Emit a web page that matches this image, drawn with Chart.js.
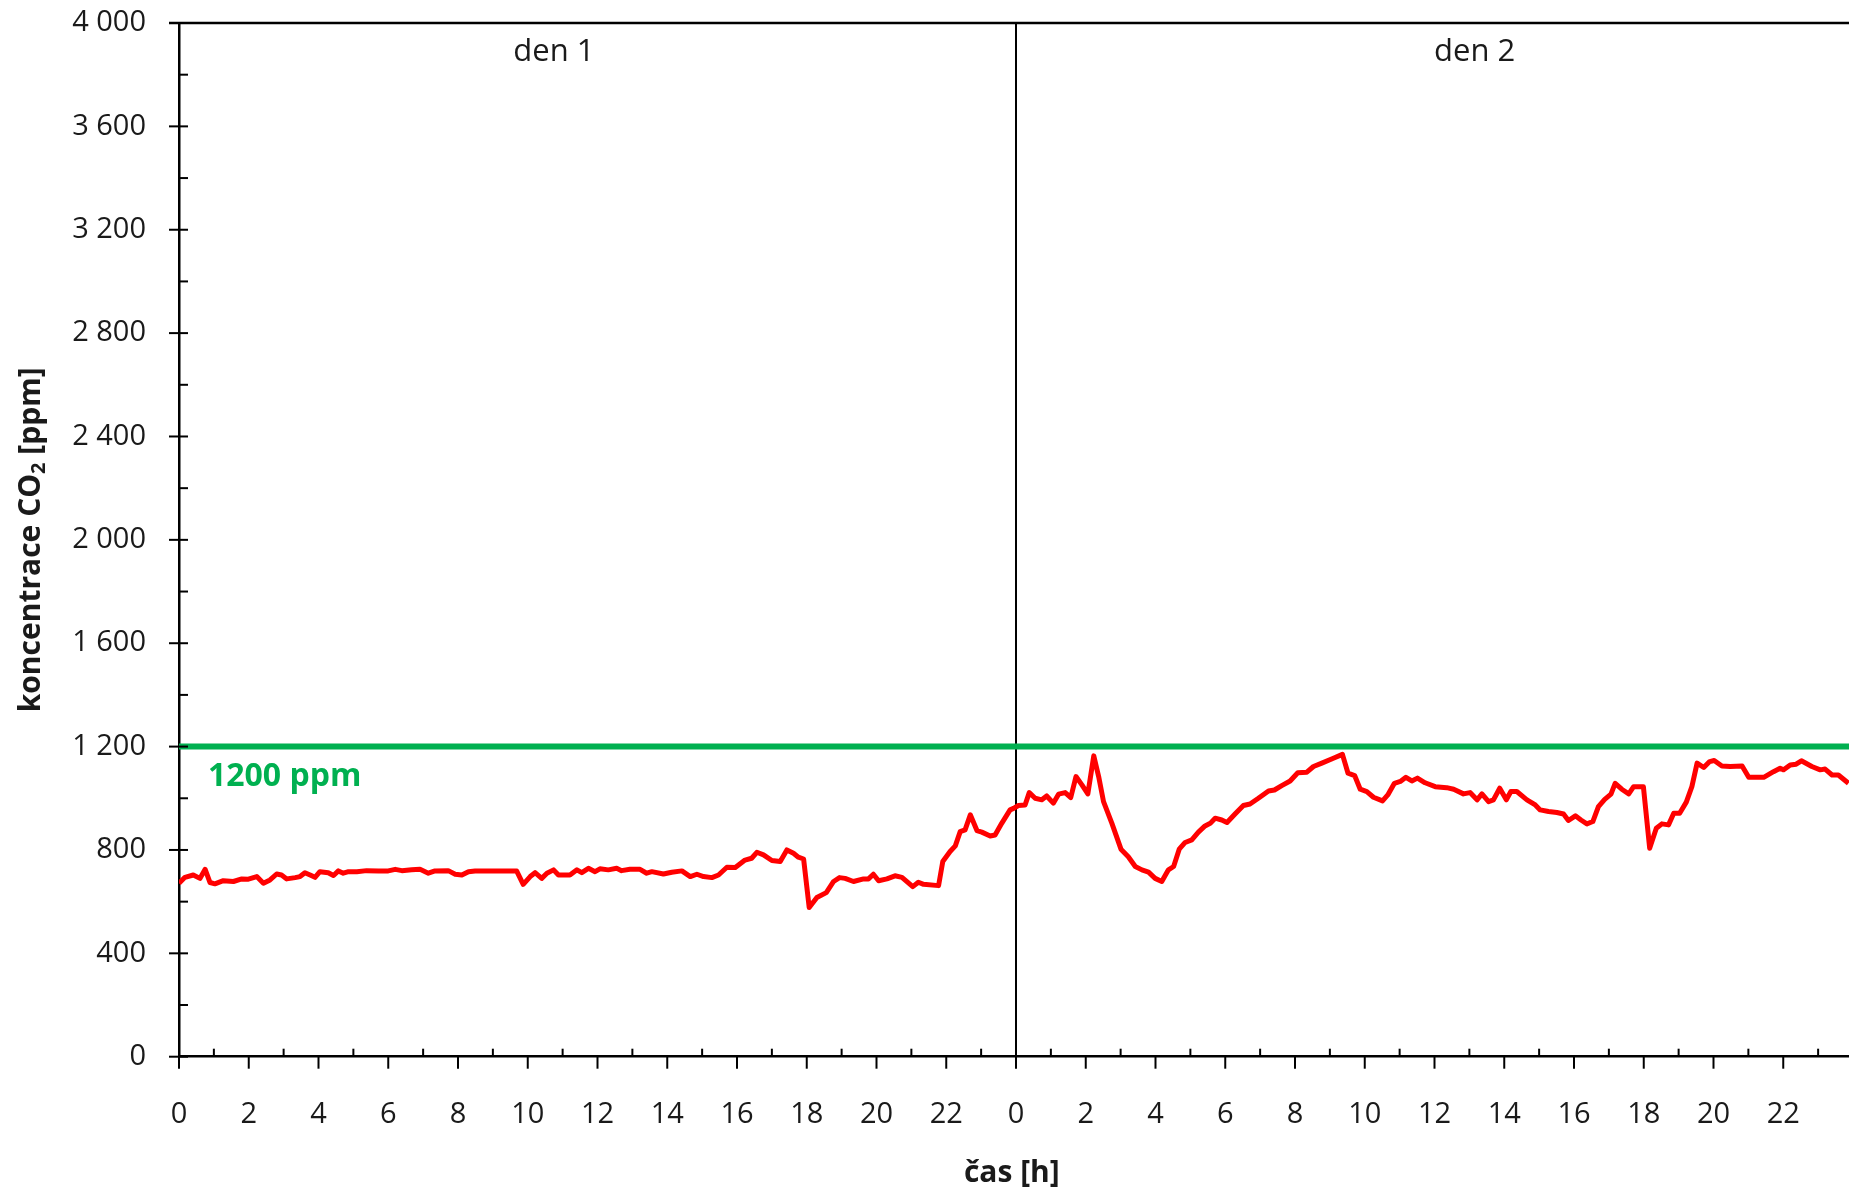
<!DOCTYPE html>
<html>
<head>
<meta charset="utf-8">
<title>koncentrace CO2</title>
<script src="https://cdn.jsdelivr.net/npm/chart.js@4.4.1/dist/chart.umd.min.js"></script>
<style>
  html, body { margin: 0; padding: 0; background: #fff; overflow: hidden; }
  #wrap { width: 1849px; height: 1195px; overflow: hidden; }
  canvas { display: block; }
</style>
</head>
<body>
<div id="wrap"><canvas id="co2Chart" width="1856" height="1195"></canvas></div>
<script>
// elapsed hours since start of den 1 (0-48)
const timeDay1 = [
  0, 0.17, 0.41, 0.6, 0.75, 0.89, 1.03, 1.27, 1.56, 1.8, 1.99, 2.23, 2.42, 2.61, 2.8, 2.94, 3.09, 3.33, 3.47, 3.61,
  3.76, 3.9, 4.04, 4.28, 4.43, 4.57, 4.71, 4.86, 5.1, 5.38, 5.72, 6.0, 6.2, 6.39, 6.67, 6.91, 7.15, 7.34, 7.72, 7.92,
  8.11, 8.3, 8.49, 9.06, 9.68, 9.87, 10.07, 10.21, 10.4, 10.55, 10.74, 10.88, 11.21, 11.41, 11.55, 11.74, 11.93,
  12.07, 12.31, 12.55, 12.69, 12.93, 13.22, 13.41, 13.56, 13.89, 14.13, 14.42, 14.66, 14.85, 15.04, 15.28, 15.47,
  15.71, 15.95, 16.23, 16.42, 16.57, 16.76, 17.0, 17.24, 17.43, 17.62, 17.76, 17.91, 18.07, 18.29, 18.56, 18.77,
  18.94, 19.1, 19.34, 19.63, 19.77, 19.91, 20.06, 20.3, 20.53, 20.73, 21.04, 21.2, 21.35, 21.78, 21.9, 22.11, 22.26,
  22.4, 22.54, 22.69, 22.88, 23.02, 23.26, 23.4, 23.59, 23.83, 23.93,
];
const co2Day1 = [
  671, 694, 703, 690, 725, 674, 669, 681, 678, 688, 687, 697, 671, 684, 707, 703, 688, 693, 697, 712,
  703, 694, 716, 712, 701, 719, 710, 716, 716, 720, 719, 719, 725, 720, 723, 725, 710, 719, 720, 706,
  703, 716, 719, 719, 719, 667, 697, 712, 690, 710, 723, 703, 703, 723, 712, 729, 716,
  727, 723, 729, 720, 725, 725, 710, 716, 707, 714, 719, 697, 706, 697, 693, 703,
  733, 732, 761, 768, 791, 781, 759, 755, 800, 787, 772, 765, 577, 616, 635, 678,
  693, 690, 678, 688, 688, 706, 681, 688, 700, 694, 658, 675, 667, 662, 755, 794, 816,
  871, 878, 936, 875, 869, 854, 858, 903, 955, 961,
];
const timeDay2 = [
  24.07, 24.26, 24.38, 24.55, 24.74, 24.88, 25.07, 25.22, 25.41, 25.57, 25.72, 25.89, 26.06, 26.23, 26.37, 26.51,
  26.75, 27.01, 27.22, 27.42, 27.61, 27.8, 27.99, 28.18, 28.37, 28.52, 28.68, 28.85, 29.04, 29.23, 29.42, 29.57,
  29.71, 29.9, 30.05, 30.28, 30.52, 30.71, 30.95, 31.24, 31.41, 31.62, 31.86, 32.08, 32.34, 32.53, 32.77, 33.1,
  33.36, 33.52, 33.71, 33.87, 34.06, 34.25, 34.51, 34.66, 34.85, 35.02, 35.18, 35.35, 35.51,
  35.73, 36.02, 36.35, 36.55, 36.83, 37.02, 37.22, 37.36, 37.55, 37.69, 37.87, 38.06, 38.19, 38.36, 38.65, 38.89,
  39.03, 39.27, 39.51, 39.7, 39.84, 40.04, 40.2, 40.37, 40.54, 40.7, 40.88, 41.06, 41.18, 41.37, 41.57, 41.71,
  41.99, 42.17, 42.36, 42.52, 42.71, 42.86, 43.03, 43.22, 43.38, 43.53, 43.72, 43.89, 44.02, 44.24, 44.48, 44.82,
  45.01, 45.44, 45.72, 45.91, 46.01, 46.2, 46.37, 46.52, 46.82, 47.06, 47.2, 47.4, 47.58, 47.87,
];
const co2Day2 = [
  972, 974, 1022, 1000, 994, 1009, 981, 1016, 1022, 1003, 1084, 1052, 1017, 1164, 1084, 987,
  903, 803, 774, 736, 723, 714, 690, 678, 723, 736, 803, 829, 839, 869, 893, 903,
  923, 916, 906, 939, 972, 978, 1000, 1028, 1032, 1049, 1067, 1099, 1101, 1123, 1136, 1155,
  1170, 1097, 1088, 1035, 1026, 1004, 990, 1013, 1058, 1065, 1081, 1067, 1078,
  1060, 1045, 1041, 1035, 1017, 1022, 994, 1017, 987, 994, 1039, 994, 1026, 1026, 994, 974,
  955, 949, 945, 939, 914, 932, 916, 901, 910, 968, 996, 1016, 1058, 1035, 1017, 1045,
  1045, 807, 884, 901, 897, 942, 942, 985, 1045, 1136, 1119, 1142, 1146, 1125, 1123, 1125,
  1081, 1081, 1103, 1116, 1110, 1129, 1132, 1145, 1123, 1110, 1113, 1090, 1090, 1058,
];

const limitTime = [0, 48];
const limitValue = [1200, 1200];
const limitLabel = "1200 ppm";

const dayLabels = ["den 1", "den 2"];
const dayLabelTime = [10.75, 37.15];

const xTitle = "čas [h]";
const yTitleParts = ["koncentrace CO", "2", " [ppm]"];

const FONT = "'Open Sans', 'Noto Sans', sans-serif";
const TEXT = "#1a1a1a";

const allTimes = timeDay1.concat(timeDay2);
const allCo2 = co2Day1.concat(co2Day2);
const co2Points = allTimes.map((t, i) => ({ x: t, y: allCo2[i] }));
const limitPoints = limitTime.map((t, i) => ({ x: t, y: limitValue[i] }));

function spacedThousands(v) {
  if (v < 1000) return String(v);
  return Math.floor(v / 1000) + " " + String(v % 1000).padStart(3, "0");
}

const decor = {
  id: "decor",
  beforeDatasetsDraw(chart) {
    const { ctx, chartArea, scales: { x } } = chart;
    const xd = x.getPixelForValue(24);
    ctx.save();
    ctx.strokeStyle = "#000";
    ctx.lineWidth = 2;
    ctx.beginPath();
    ctx.moveTo(xd, chartArea.top);
    ctx.lineTo(xd, chartArea.bottom);
    ctx.stroke();
    ctx.restore();
  },
  afterDraw(chart) {
    const { ctx, chartArea, scales: { x, y } } = chart;
    ctx.save();
    ctx.strokeStyle = "#000";

    // top frame line
    ctx.lineWidth = 2.5;
    ctx.beginPath();
    ctx.moveTo(chartArea.left - 10, chartArea.top);
    ctx.lineTo(chart.width, chartArea.top);
    ctx.stroke();

    // y tick marks: major crossing, minor inside
    ctx.lineWidth = 2;
    for (let v = 0; v <= 4000; v += 200) {
      const py = y.getPixelForValue(v);
      const major = v % 400 === 0;
      ctx.beginPath();
      ctx.moveTo(chartArea.left - (major ? 10 : 0), py);
      ctx.lineTo(chartArea.left + 9, py);
      ctx.stroke();
    }
    // x tick marks: even hours below, odd hours inside
    for (let h = 0; h <= 48; h += 1) {
      const px = x.getPixelForValue(h);
      ctx.beginPath();
      if (h % 2 === 0) {
        ctx.moveTo(px, chartArea.bottom);
        ctx.lineTo(px, chartArea.bottom + 12);
      } else {
        ctx.moveTo(px, chartArea.bottom - 8);
        ctx.lineTo(px, chartArea.bottom);
      }
      ctx.stroke();
    }

    // day labels
    ctx.fillStyle = TEXT;
    ctx.font = `31px ${FONT}`;
    ctx.textAlign = "center";
    ctx.textBaseline = "middle";
    dayLabels.forEach((lbl, i) => {
      ctx.fillText(lbl, x.getPixelForValue(dayLabelTime[i]), y.getPixelForValue(3889));
    });

    // limit label
    ctx.fillStyle = "#00B050";
    ctx.font = `bold 32px ${FONT}`;
    ctx.textAlign = "left";
    ctx.fillText(limitLabel, x.getPixelForValue(0.83), y.getPixelForValue(1083));

    // x title
    ctx.fillStyle = TEXT;
    ctx.font = `bold 30px ${FONT}`;
    ctx.textAlign = "center";
    ctx.fillText(xTitle, x.getPixelForValue(23.88), 1173);

    // y title with subscript
    const big = `bold 30px ${FONT}`;
    const small = `bold 20px ${FONT}`;
    ctx.font = big;
    const w0 = ctx.measureText(yTitleParts[0]).width;
    const w2 = ctx.measureText(yTitleParts[2]).width;
    ctx.font = small;
    const w1 = ctx.measureText(yTitleParts[1]).width;
    const total = w0 + w1 + w2;
    ctx.translate(31, (chartArea.top + chartArea.bottom) / 2);
    ctx.rotate(-Math.PI / 2);
    ctx.textAlign = "left";
    let cx = -total / 2;
    ctx.font = big;
    ctx.fillText(yTitleParts[0], cx, 0);
    cx += w0;
    ctx.font = small;
    ctx.fillText(yTitleParts[1], cx, 8);
    cx += w1;
    ctx.font = big;
    ctx.fillText(yTitleParts[2], cx, 0);
    ctx.restore();
  },
};

new Chart(document.getElementById("co2Chart"), {
  type: "line",
  data: {
    datasets: [
      {
        label: "limit",
        data: limitPoints,
        borderColor: "#00B050",
        borderWidth: 6,
        pointRadius: 0,
        tension: 0,
      },
      {
        label: "CO2",
        data: co2Points,
        borderColor: "#FF0000",
        borderWidth: 5,
        borderJoinStyle: "round",
        pointRadius: 0,
        tension: 0,
      },
    ],
  },
  options: {
    responsive: false,
    animation: false,
    layout: { padding: { top: 23, right: 3, left: 0, bottom: 0 }, autoPadding: false },
    plugins: { legend: { display: false }, tooltip: { enabled: false } },
    scales: {
      x: {
        type: "linear",
        min: 0,
        max: 48,
        grid: { display: false, drawTicks: false },
        border: { display: true, color: "#000", width: 2.5 },
        ticks: {
          stepSize: 1,
          autoSkip: false,
          maxRotation: 0,
          padding: 41,
          color: TEXT,
          font: { family: FONT, size: 29 },
          callback: (v) => (v % 2 === 0 && v < 48 ? String(v % 24) : ""),
        },
        afterFit(scale) {
          scale.height = 138.3;
          scale.paddingLeft = 0;
          scale.paddingRight = 0;
        },
      },
      y: {
        min: 0,
        max: 4000,
        grid: { display: false, drawTicks: false },
        border: { display: true, color: "#000", width: 2.5 },
        ticks: {
          stepSize: 400,
          padding: 33,
          color: TEXT,
          font: { family: FONT, size: 29 },
          callback: (v) => spacedThousands(v),
        },
        afterFit(scale) {
          scale.width = 179;
          scale.paddingTop = 0;
          scale.paddingBottom = 0;
        },
      },
    },
  },
  plugins: [decor],
});
</script>
</body>
</html>
